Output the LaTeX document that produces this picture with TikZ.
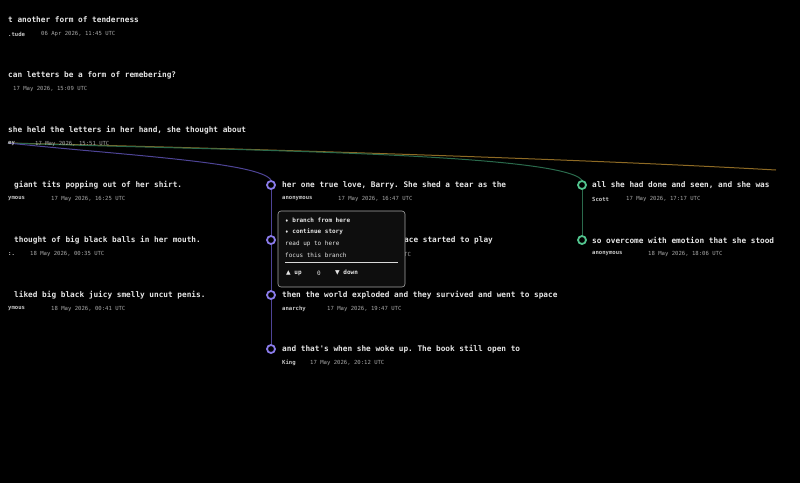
\documentclass[tikz,border=0pt]{standalone}
\usepackage{fontspec}
\setmonofont{DejaVu Sans Mono}
\newfontfamily\symfont{DejaVu Sans}
\definecolor{bgc}{HTML}{000000}
\definecolor{titlec}{HTML}{E6E6E6}
\definecolor{authc}{HTML}{C8C8C8}
\definecolor{datec}{HTML}{A8A8A8}
\definecolor{purp}{HTML}{8A7BEA}
\definecolor{purpline}{HTML}{4E4496}
\definecolor{grn}{HTML}{52C48E}
\definecolor{grnline}{HTML}{2A6A4C}
\definecolor{orng}{HTML}{8E6A24}
\definecolor{menuc}{HTML}{0E0E0E}
\begin{document}
\begin{tikzpicture}[x=1pt,y=-1pt,
title/.style={anchor=west,inner sep=0pt,text=titlec,font=\ttfamily\bfseries\fontsize{7.75}{9}\selectfont},
author/.style={anchor=west,inner sep=0pt,text=authc,font=\ttfamily\bfseries\fontsize{5.6}{7}\selectfont},
date/.style={anchor=west,inner sep=0pt,text=datec,font=\ttfamily\fontsize{5.6}{7}\selectfont},
item/.style={anchor=west,inner sep=0pt,text=titlec,font=\ttfamily\fontsize{6}{7}\selectfont},
pring/.style={circle,draw=purp,line width=1.8pt,minimum size=8pt,inner sep=0pt},
gring/.style={circle,draw=grn,line width=1.8pt,minimum size=8pt,inner sep=0pt}]

\fill[bgc] (0,0) rectangle (800,483);
\useasboundingbox (0,0) rectangle (800,483);

% branch curves
\coordinate (root) at (8,143);
\coordinate (oend) at (776,170);
\node[pring] (m1) at (271,185) {};
\node[pring] (m2) at (271,240) {};
\node[pring] (m3) at (271,295) {};
\node[pring] (m4) at (271,349) {};
\node[gring] (r1) at (582,185) {};
\node[gring] (r2) at (582,240) {};
\draw[orng,line width=1pt] (root) .. controls (300,150) and (600,160) .. (oend);
\draw[grnline,line width=1pt] (root) .. controls (200,150) and (560,152) .. (r1.north);
\draw[purpline,line width=1pt] (root) .. controls (120,155) and (260,162) .. (m1.north);
\draw[purpline,line width=1pt] (m1) -- (m2) (m2) -- (m3) (m3) -- (m4);
\draw[grnline,line width=1pt] (r1) -- (r2);

% left column
\node[title] (t1) at (8,20) {t another form of tenderness};
\node[author] (a1) at (8,34) {.tude};
\node[date] (d1) at (41,34) {06 Apr 2026, 11:45 UTC};
\node[title] (t2) at (8,75) {can letters be a form of remebering?};
\node[date] (d2) at (13,89) {17 May 2026, 15:09 UTC};
\node[title] (t3) at (8,130) {she held the letters in her hand, she thought about};
\node[author] (a3) at (8,144) {ey};
\node[date] (d3) at (35,144) {17 May 2026, 15:51 UTC};
\node[title] (t4) at (14,185) {giant tits popping out of her shirt.};
\node[author] (a4) at (8,199) {ymous};
\node[date] (d4) at (51,199) {17 May 2026, 16:25 UTC};
\node[title] (t5) at (14,240) {thought of big black balls in her mouth.};
\node[author] (a5) at (8,254) {:.};
\node[date] (d5) at (30,254) {18 May 2026, 00:35 UTC};
\node[title] (t6) at (14,295) {liked big black juicy smelly uncut penis.};
\node[author] (a6) at (8,309) {ymous};
\node[date] (d6) at (51,309) {18 May 2026, 00:41 UTC};

% middle column
\node[title] (mt1) at (282,185) {her one true love, Barry. She shed a tear as the};
\node[author] (ma1) at (282,199) {anonymous};
\node[date] (md1) at (338,199) {17 May 2026, 16:47 UTC};
\node[title] (mt2) at (404,240) {ace started to play};
\node[date] (md2) at (404,254) {TC};
\node[title] (mt3) at (282,295) {then the world exploded and they survived and went to space};
\node[author] (ma3) at (282,309) {anarchy};
\node[date] (md3) at (327,309) {17 May 2026, 19:47 UTC};
\node[title] (mt4) at (282,349) {and that's when she woke up. The book still open to};
\node[author] (ma4) at (282,363) {King};
\node[date] (md4) at (310,363) {17 May 2026, 20:12 UTC};

% right column
\node[title] (rt1) at (592,185) {all she had done and seen, and she was};
\node[author] (ra1) at (592,199) {Scott};
\node[date] (rd1) at (626,199) {17 May 2026, 17:17 UTC};
\node[title] (rt2) at (592,240) {so overcome with emotion that she stood};
\node[author] (ra2) at (592,254) {anonymous};
\node[date] (rd2) at (648,254) {18 May 2026, 18:06 UTC};

% popup menu
\draw[fill=menuc,draw=gray!70,rounded corners=3pt,line width=0.6pt] (278,211) rectangle (405,287);
\node[item,font=\ttfamily\bfseries\fontsize{6}{7}\selectfont] (i1) at (285,220) {{\symfont\fontsize{4}{5}\selectfont ♦} branch from here};
\node[item,font=\ttfamily\bfseries\fontsize{6}{7}\selectfont] (i2) at (285,232) {{\symfont\fontsize{4}{5}\selectfont ♦} continue story};
\node[item] (i3) at (285,244) {read up to here};
\node[item] (i4) at (285,255) {focus this branch};
\draw[gray!30,line width=0.5pt] (285,262) -- (398,262);
\node[item,font=\ttfamily\bfseries\fontsize{6}{7}\selectfont] (v1) at (286,273) {{\symfont ▲} up};
\node[item] (v2) at (317,273) {0};
\node[item,font=\ttfamily\bfseries\fontsize{6}{7}\selectfont] (v3) at (335,273) {{\symfont ▼} down};
\end{tikzpicture}
\end{document}
